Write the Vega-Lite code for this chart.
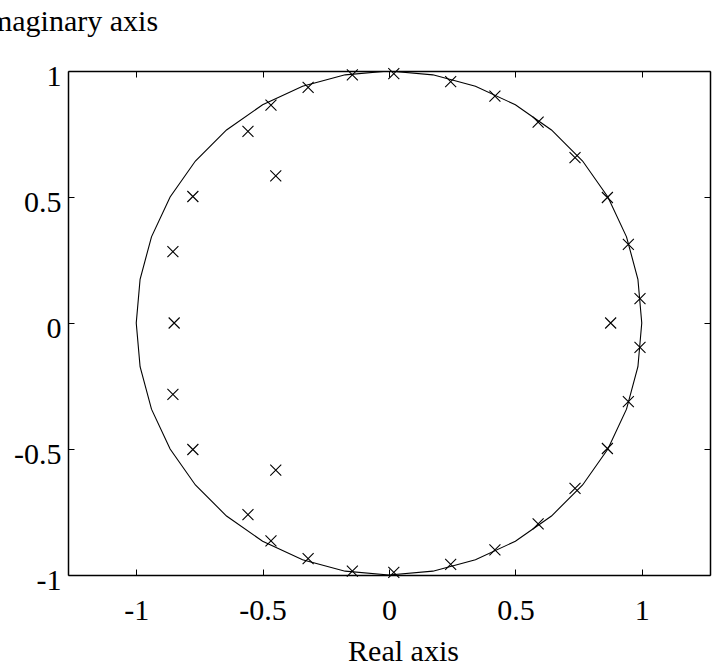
{
  "$schema": "https://vega.github.io/schema/vega-lite/v6.json",
  "width": 642,
  "height": 504,
  "autosize": {"type": "none"},
  "padding": {"left": 68, "top": 71, "right": 11, "bottom": 91},
  "background": "white",
  "config": {
    "font": "Liberation Serif",
    "view": {"stroke": null},
    "axis": {
      "grid": false,
      "domainColor": "black",
      "domainWidth": 1.5,
      "tickColor": "black",
      "tickWidth": 1,
      "tickSize": -6,
      "labelColor": "black",
      "labelFont": "Liberation Serif",
      "labelFontSize": 30,
      "labelOverlap": false,
      "labelFlush": false,
      "titleColor": "black",
      "titleFont": "Liberation Serif",
      "titleFontSize": 30,
      "titleFontWeight": "normal"
    }
  },
  "datasets": {
    "circle": [
      {"i": 0, "x": 1, "y": 0},
      {"i": 1, "x": 0.9848, "y": 0.1736},
      {"i": 2, "x": 0.9397, "y": 0.342},
      {"i": 3, "x": 0.866, "y": 0.5},
      {"i": 4, "x": 0.766, "y": 0.6428},
      {"i": 5, "x": 0.6428, "y": 0.766},
      {"i": 6, "x": 0.5, "y": 0.866},
      {"i": 7, "x": 0.342, "y": 0.9397},
      {"i": 8, "x": 0.1736, "y": 0.9848},
      {"i": 9, "x": 0, "y": 1},
      {"i": 10, "x": -0.1736, "y": 0.9848},
      {"i": 11, "x": -0.342, "y": 0.9397},
      {"i": 12, "x": -0.5, "y": 0.866},
      {"i": 13, "x": -0.6428, "y": 0.766},
      {"i": 14, "x": -0.766, "y": 0.6428},
      {"i": 15, "x": -0.866, "y": 0.5},
      {"i": 16, "x": -0.9397, "y": 0.342},
      {"i": 17, "x": -0.9848, "y": 0.1736},
      {"i": 18, "x": -1, "y": 0},
      {"i": 19, "x": -0.9848, "y": -0.1736},
      {"i": 20, "x": -0.9397, "y": -0.342},
      {"i": 21, "x": -0.866, "y": -0.5},
      {"i": 22, "x": -0.766, "y": -0.6428},
      {"i": 23, "x": -0.6428, "y": -0.766},
      {"i": 24, "x": -0.5, "y": -0.866},
      {"i": 25, "x": -0.342, "y": -0.9397},
      {"i": 26, "x": -0.1736, "y": -0.9848},
      {"i": 27, "x": 0, "y": -1},
      {"i": 28, "x": 0.1736, "y": -0.9848},
      {"i": 29, "x": 0.342, "y": -0.9397},
      {"i": 30, "x": 0.5, "y": -0.866},
      {"i": 31, "x": 0.6428, "y": -0.766},
      {"i": 32, "x": 0.766, "y": -0.6428},
      {"i": 33, "x": 0.866, "y": -0.5},
      {"i": 34, "x": 0.9397, "y": -0.342},
      {"i": 35, "x": 0.9848, "y": -0.1736},
      {"i": 36, "x": 1, "y": 0}
    ],
    "zeros": [
      {"re": 0.019, "im": 0.990},
      {"re": -0.145, "im": 0.985},
      {"re": 0.244, "im": 0.958},
      {"re": -0.320, "im": 0.935},
      {"re": 0.419, "im": 0.900},
      {"re": -0.467, "im": 0.865},
      {"re": 0.590, "im": 0.797},
      {"re": -0.558, "im": 0.760},
      {"re": 0.736, "im": 0.656},
      {"re": -0.776, "im": 0.502},
      {"re": 0.864, "im": 0.498},
      {"re": -0.448, "im": 0.584},
      {"re": 0.947, "im": 0.312},
      {"re": -0.855, "im": 0.283},
      {"re": 0.993, "im": 0.097},
      {"re": -0.850, "im": 0},
      {"re": 0.877, "im": 0},
      {"re": 0.019, "im": -0.990},
      {"re": -0.145, "im": -0.985},
      {"re": 0.244, "im": -0.958},
      {"re": -0.320, "im": -0.935},
      {"re": 0.419, "im": -0.900},
      {"re": -0.467, "im": -0.865},
      {"re": 0.590, "im": -0.797},
      {"re": -0.558, "im": -0.760},
      {"re": 0.736, "im": -0.656},
      {"re": -0.776, "im": -0.502},
      {"re": 0.864, "im": -0.498},
      {"re": -0.448, "im": -0.584},
      {"re": 0.947, "im": -0.312},
      {"re": -0.855, "im": -0.283},
      {"re": 0.993, "im": -0.097}
    ]
  },
  "resolve": {"axis": {"x": "independent", "y": "independent"}},
  "layer": [
    {
      "data": {"name": "circle"},
      "mark": {"type": "line", "color": "black", "strokeWidth": 1.1, "clip": true},
      "encoding": {
        "x": {
          "field": "x", "type": "quantitative",
          "scale": {"domain": [-1.27, 1.27], "nice": false, "zero": false},
          "axis": {
            "orient": "bottom",
            "values": [-1, -0.5, 0, 0.5, 1],
            "labelExpr": "'' + datum.value",
            "labelPadding": 26,
            "title": "Real axis",
            "titleX": 335,
            "titleY": 85,
            "titleAlign": "center",
            "titleBaseline": "alphabetic",
            "titleAnchor": null
          }
        },
        "y": {
          "field": "y", "type": "quantitative",
          "scale": {"domain": [-1, 1], "nice": false, "zero": false},
          "axis": {
            "orient": "left",
            "values": [-1, -0.5, 0, 0.5, 1],
            "labelExpr": "'' + datum.value",
            "labelPadding": 13,
            "labelOffset": 5,
            "labelBaseline": "middle",
            "title": "Imaginary axis",
            "titleAngle": 0,
            "titleX": 0,
            "titleY": -41,
            "titleAlign": "center",
            "titleBaseline": "alphabetic",
            "titleAnchor": null
          }
        },
        "order": {"field": "i", "type": "quantitative"}
      }
    },
    {
      "data": {"name": "zeros"},
      "mark": {
        "type": "point",
        "shape": "M-1,-1L1,1M-1,1L1,-1",
        "filled": false,
        "stroke": "black",
        "strokeWidth": 1.1,
        "size": 121,
        "opacity": 1
      },
      "encoding": {
        "x": {
          "field": "re", "type": "quantitative",
          "axis": {"orient": "top", "values": [-1, -0.5, 0, 0.5, 1], "labels": false, "title": null}
        },
        "y": {
          "field": "im", "type": "quantitative",
          "axis": {"orient": "right", "values": [-1, -0.5, 0, 0.5, 1], "labels": false, "title": null}
        }
      }
    }
  ]
}
